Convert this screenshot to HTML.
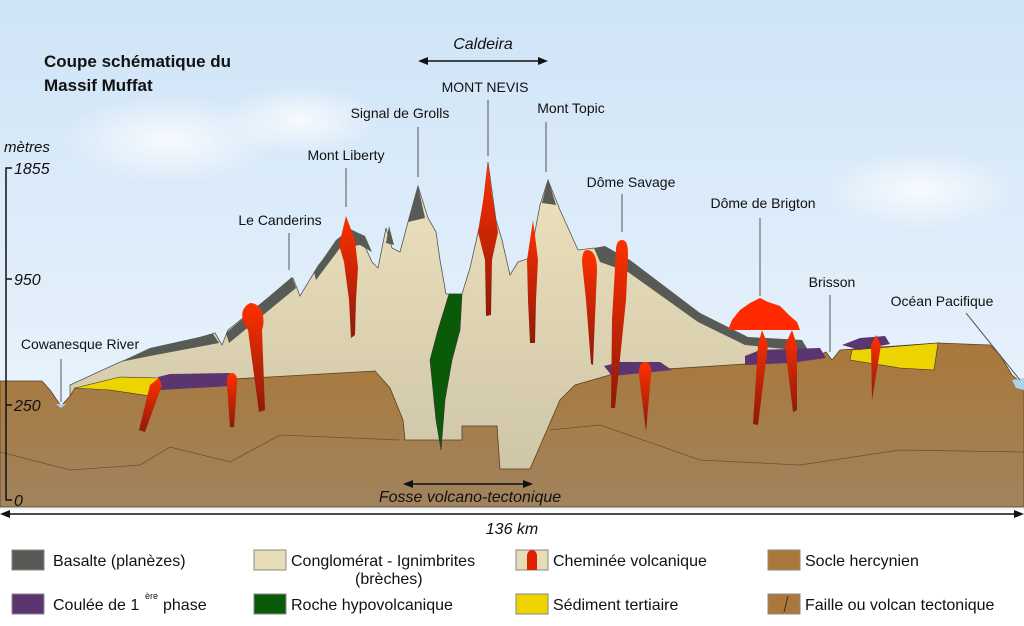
<!DOCTYPE html>
<html><head><meta charset="utf-8"><style>
body{margin:0;width:1024px;height:626px;overflow:hidden;background:#fff;font-family:"Liberation Sans",sans-serif}
svg{display:block}
</style></head><body>
<svg width="1024" height="626" viewBox="0 0 1024 626" xmlns="http://www.w3.org/2000/svg" font-family="Liberation Sans, sans-serif">
<defs>
<linearGradient id="sky" x1="0" y1="0" x2="0" y2="1"><stop offset="0" stop-color="#cfe4f7"/><stop offset="1" stop-color="#eef6fd"/></linearGradient>
<linearGradient id="beige" x1="0" y1="0" x2="0" y2="1"><stop offset="0" stop-color="#ede2bd"/><stop offset="1" stop-color="#cfc6a8"/></linearGradient>
<linearGradient id="soc" x1="0" y1="0" x2="0" y2="1"><stop offset="0" stop-color="#a9783a"/><stop offset="1" stop-color="#a1835e"/></linearGradient>
<linearGradient id="lava" x1="0" y1="0" x2="0" y2="1"><stop offset="0" stop-color="#ff3000"/><stop offset="1" stop-color="#8e1a0a"/></linearGradient>
<radialGradient id="cl"><stop offset="0" stop-color="#fff" stop-opacity=".8"/><stop offset="1" stop-color="#fff" stop-opacity="0"/></radialGradient>
</defs>
<rect width="1024" height="510" fill="url(#sky)"/>
<ellipse cx="170" cy="140" rx="110" ry="45" fill="url(#cl)"/>
<ellipse cx="300" cy="120" rx="80" ry="35" fill="url(#cl)"/>
<ellipse cx="920" cy="190" rx="100" ry="40" fill="url(#cl)"/>
<path d="M70,385 L120,362 L150,352 L215,333 L222,345 L228,330 L293,278 L300,296 L318,266 L345,232 L362,240 L372,262 L378,268 L386,228 L392,248 L400,252 L408,222 L418,186 L428,218 L436,232 L440,260 L446,294 L462,294 L470,268 L482,215 L488,162 L496,220 L502,240 L510,275 L518,262 L530,258 L540,205 L548,180 L560,210 L578,250 L594,248 L630,265 L700,318 L745,338 L810,350 L810,470 L70,470 Z" fill="url(#beige)" stroke="#555" stroke-width=".8"/>
<path d="M120,362 L150,348 L213,334 L219,343 L150,356 Z" fill="#575a55"/>
<path d="M226,333 L292,277 L296,288 L229,343 Z" fill="#575a55"/>
<path d="M314,272 L336,240 L350,229 L365,236 L372,252 L360,245 L340,248 L316,280 Z" fill="#575a55"/>
<path d="M386,243 L389,226 L394,245 Z" fill="#575a55"/>
<path d="M408,222 L418,186 L425,218 Z" fill="#575a55"/>
<path d="M542,203 L548,179 L556,205 Z" fill="#575a55"/>
<path d="M594,248 L605,246 L612,250 L630,260 L700,313 L748,337 L802,340 L808,350 L795,350 L745,345 L698,322 L628,272 L600,262 Z" fill="#575a55"/>
<path d="M0,381 L42,381 L50,390 L61,406 L70,396 L75,388 L375,371 L390,388 L403,420 L405,440 L462,440 L462,426 L497,426 L500,469 L530,469 L560,400 L575,385 L620,372 L808,360 L826,352 L832,360 L840,350 L938,343 L990,345 L1000,355 L1012,375 L1024,385 L1024,507 L0,507 Z" fill="url(#soc)" stroke="#5a4020" stroke-width=".8"/>
<path d="M0,452 L70,470 L140,465 L170,447 L230,462 L280,435 L400,440" fill="none" stroke="#6e5030" stroke-width=".8"/>
<path d="M550,430 L600,425 L700,460 L800,465 L900,450 L1024,452" fill="none" stroke="#6e5030" stroke-width=".8"/>
<path d="M75,388 L120,377 L160,378 L150,396 L110,390 Z" fill="#edd400" stroke="#333" stroke-width=".6"/>
<path d="M852,350 L938,343 L934,370 L900,368 L850,360 Z" fill="#edd400" stroke="#333" stroke-width=".6"/>
<path d="M158,377 L170,374 L230,373 L232,386 L160,390 Z" fill="#5b3570"/>
<path d="M604,366 L620,362 L660,362 L672,370 L612,376 Z" fill="#5b3570"/>
<path d="M745,356 L760,350 L820,348 L826,358 L790,363 L745,365 Z" fill="#5b3570"/>
<path d="M842,345 L860,338 L885,336 L890,344 L860,350 Z" fill="#5b3570"/>
<path d="M449,294 L462,294 L460,330 L452,360 L445,400 L441,450 L436,420 L430,360 L438,330 Z" fill="#0a5a0a" stroke="#333" stroke-width=".6"/>
<g fill="url(#lava)">
<path d="M346,216 L355,240 L358,268 L356,300 L355,335 L351,338 L349,300 L344,262 L339,245 Z"/>
<path d="M250,303 C240,308 240,320 248,330 L256,390 L259,412 L265,410 L262,330 C266,318 262,303 250,303 Z"/>
<path d="M488,162 L492,195 L498,232 L492,260 L491,315 L486,316 L485,260 L478,232 L484,195 Z"/>
<path d="M533,220 L538,260 L536,300 L535,343 L530,343 L528,300 L527,260 Z"/>
<path d="M587,250 C594,250 597,258 597,270 L593,365 L591,364 L586,300 L582,262 C582,254 584,250 587,250 Z"/>
<path d="M622,240 C627,240 628,246 628,255 L626,300 L615,408 L611,408 L612,320 L616,250 C616,244 618,240 622,240 Z"/>
<path d="M645,362 C650,362 652,368 651,375 L646,432 L639,375 C638,367 641,362 645,362 Z"/>
<path d="M159,378 L162,385 L145,432 L139,430 L150,385 Z"/>
<path d="M232,373 C236,373 238,378 237,385 L234,427 L230,427 L227,385 C226,378 228,373 232,373 Z"/>
<path d="M762,330 L768,345 L758,425 L753,424 L758,345 Z"/>
<path d="M792,330 L797,345 L797,410 L793,412 L785,345 Z"/>
<path d="M876,335 L881,345 L872,400 L871,345 Z"/>
</g>
<path d="M760,298 L768,302 L780,306 L790,316 L797,322 L800,330 L728,330 L732,320 L740,310 L750,303 Z" fill="#ff2a00"/>
<path d="M1012,380 L1024,378 L1024,390 L1016,388 Z" fill="#a8d4ee"/>
<path d="M56,404 L66,404 L61,408 Z" fill="#a8d4ee"/>
<g stroke="#111" stroke-width="1.5" fill="none">
<path d="M12,168 L6,168 L6,500 L12,500"/>
<path d="M6,279 L12,279 M6,405 L12,405"/>
</g>
<g font-style="italic" font-size="16" fill="#111">
<text x="4" y="152" font-size="15">mètres</text>
<text x="14" y="174">1855</text>
<text x="14" y="285">950</text>
<text x="14" y="411">250</text>
<text x="14" y="506">0</text>
</g>
<text x="44" y="67" font-size="17" font-weight="bold" fill="#111">Coupe schématique du</text>
<text x="44" y="91" font-size="17" font-weight="bold" fill="#111">Massif Muffat</text>
<g stroke="#111" stroke-width="1.5">
<line x1="424" y1="61" x2="542" y2="61"/>
<line x1="408" y1="484" x2="528" y2="484"/>
<line x1="4" y1="514" x2="1020" y2="514"/>
</g>
<g fill="#111">
<path d="M418,61 L428,57 L428,65 Z"/><path d="M548,61 L538,57 L538,65 Z"/>
<path d="M403,484 L413,480 L413,488 Z"/><path d="M533,484 L523,480 L523,488 Z"/>
<path d="M0,514 L10,510 L10,518 Z"/><path d="M1024,514 L1014,510 L1014,518 Z"/>
</g>
<g font-style="italic" font-size="16" fill="#111" text-anchor="middle">
<text x="483" y="49">Caldeira</text>
<text x="470" y="502">Fosse volcano-tectonique</text>
<text x="512" y="534">136 km</text>
</g>
<g stroke="#555" stroke-width="1">
<line x1="488" y1="100" x2="488" y2="156"/>
<line x1="418" y1="127" x2="418" y2="177"/>
<line x1="546" y1="122" x2="546" y2="172"/>
<line x1="346" y1="168" x2="346" y2="207"/>
<line x1="289" y1="233" x2="289" y2="270"/>
<line x1="622" y1="194" x2="622" y2="232"/>
<line x1="760" y1="218" x2="760" y2="296"/>
<line x1="830" y1="295" x2="830" y2="352"/>
<line x1="61" y1="359" x2="61" y2="402"/>
<line x1="966" y1="313" x2="1020" y2="380"/>
</g>
<g font-size="14" fill="#111" text-anchor="middle">
<text x="485" y="92">MONT NEVIS</text>
<text x="400" y="118">Signal de Grolls</text>
<text x="571" y="113">Mont Topic</text>
<text x="346" y="160">Mont Liberty</text>
<text x="280" y="225">Le Canderins</text>
<text x="631" y="187">Dôme Savage</text>
<text x="763" y="208">Dôme de Brigton</text>
<text x="832" y="287">Brisson</text>
<text x="942" y="306">Océan Pacifique</text>
<text x="80" y="349">Cowanesque River</text>
</g>
<rect x="0" y="540" width="1024" height="86" fill="#fff"/>
<g stroke="#888" stroke-width="1">
<rect x="12" y="550" width="32" height="20" fill="#575a55"/>
<rect x="254" y="550" width="32" height="20" fill="#e6dcb8"/>
<rect x="516" y="550" width="32" height="20" fill="#e6dcb8"/>
<rect x="768" y="550" width="32" height="20" fill="#a9783a"/>
<rect x="12" y="594" width="32" height="20" fill="#5b3570"/>
<rect x="254" y="594" width="32" height="20" fill="#0a5a0a"/>
<rect x="516" y="594" width="32" height="20" fill="#edd400"/>
<rect x="768" y="594" width="32" height="20" fill="#a9783a"/>
</g>
<path d="M527,570 L527,556 C527,548 537,548 537,556 L537,570 Z" fill="#e02000"/>
<line x1="784" y1="612" x2="788" y2="596" stroke="#333" stroke-width="1"/>
<g font-size="16" fill="#111">
<text x="53" y="566">Basalte (planèzes)</text>
<text x="291" y="566">Conglomérat - Ignimbrites</text>
<text x="355" y="584">(brèches)</text>
<text x="553" y="566">Cheminée volcanique</text>
<text x="805" y="566">Socle hercynien</text>
<text x="53" y="610">Coulée de 1</text>
<text x="145" y="599" font-size="9">ère</text>
<text x="163" y="610">phase</text>
<text x="291" y="610">Roche hypovolcanique</text>
<text x="553" y="610">Sédiment tertiaire</text>
<text x="805" y="610">Faille ou volcan tectonique</text>
</g>
</svg>
</body></html>
